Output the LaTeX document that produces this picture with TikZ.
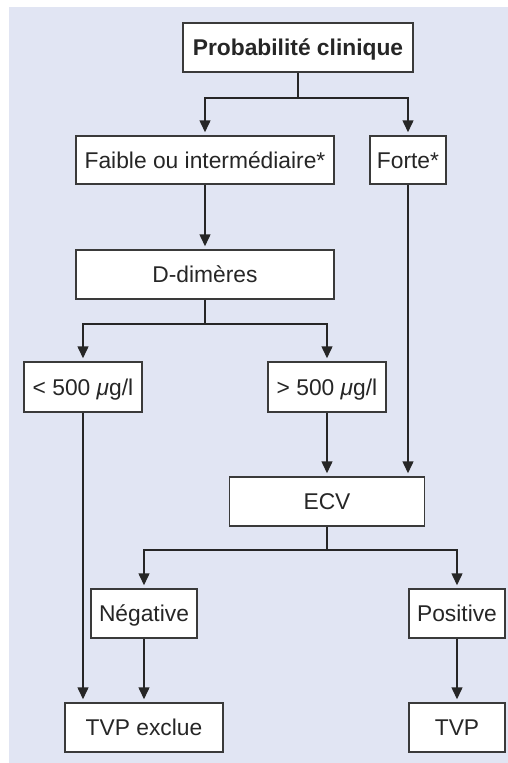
\documentclass[tikz,border=0pt]{standalone}
\usepackage{fontspec}
\setmainfont{Liberation Sans}
\usetikzlibrary{arrows.meta,positioning}
\definecolor{ChartInk}{HTML}{262626}
\definecolor{ChartRule}{HTML}{3A3A3A}
\definecolor{ChartBack}{HTML}{E1E5F3}
\tikzset{
  tvp/box/.style={
    draw=ChartRule, line width=1.5pt, fill=white, text=ChartInk,
    inner sep=0pt, text height=16.3pt, text depth=0pt,
    font=\fontsize{22.8}{27}\selectfont, align=center
  },
  tvp/arrow/.style={
    -{Triangle[length=12pt,width=11pt]}, line width=1.5pt, draw=ChartInk,
    shorten >=3pt
  }
}

\begin{document}
\begin{tikzpicture}[x=1pt,y=-1pt]
  \useasboundingbox (0,0) rectangle (508,763);
  \fill[ChartBack] (9,7) rectangle (508,763);
  % boxes, centred on the reference positions
  \node[tvp/box,minimum width=230pt,minimum height=49pt,font=\fontsize{22.8}{27}\selectfont\bfseries]
    (prob) at (298,47.5) {Probabilité clinique};
  \node[tvp/box,minimum width=258pt,minimum height=48pt] (faible) at (205,160)
    {Faible ou intermédiaire*};
  \node[tvp/box,minimum width=76pt,minimum height=48pt] (forte) at (408,160) {Forte*};
  \node[tvp/box,minimum width=258pt,minimum height=49pt] (ddim) at (205,274.5) {D-dimères};
  \node[tvp/box,minimum width=118pt,minimum height=50pt] (bas) at (83,387)
    {< 500 {\itshape μ}g/l};
  \node[tvp/box,minimum width=118pt,minimum height=50pt] (haut) at (327,387)
    {> 500 {\itshape μ}g/l};
  \node[tvp/box,minimum width=195pt,minimum height=49pt] (ecv) at (327,501.5) {ECV};
  \node[tvp/box,minimum width=106pt,minimum height=49pt] (neg) at (144,613.5) {Négative};
  \node[tvp/box,minimum width=96pt,minimum height=49pt] (pos) at (457,613.5) {Positive};
  \node[tvp/box,minimum width=158pt,minimum height=49pt] (exclue) at (144,727.5) {TVP exclue};
  \node[tvp/box,minimum width=96pt,minimum height=49pt] (tvp) at (457,727.5) {TVP};
  % connectors
  \draw[tvp/arrow] (prob.south) -- ++(0,25) -| (faible.north);
  \draw[tvp/arrow] (prob.south) -- ++(0,25) -| (forte.north);
  \draw[tvp/arrow] (faible) -- (ddim);
  \draw[tvp/arrow] (forte.south) -- (forte.south |- ecv.north);
  \draw[tvp/arrow] (ddim.south) -- ++(0,24) -| (bas.north);
  \draw[tvp/arrow] (ddim.south) -- ++(0,24) -| (haut.north);
  \draw[tvp/arrow] (haut.south) -- (haut.south |- ecv.north);
  \draw[tvp/arrow] (ecv.south) -- ++(0,23) -| (neg.north);
  \draw[tvp/arrow] (ecv.south) -- ++(0,23) -| (pos.north);
  \draw[tvp/arrow] (bas.south) -- (bas.south |- exclue.north);
  \draw[tvp/arrow] (neg) -- (exclue);
  \draw[tvp/arrow] (pos) -- (tvp);
\end{tikzpicture}
\end{document}
